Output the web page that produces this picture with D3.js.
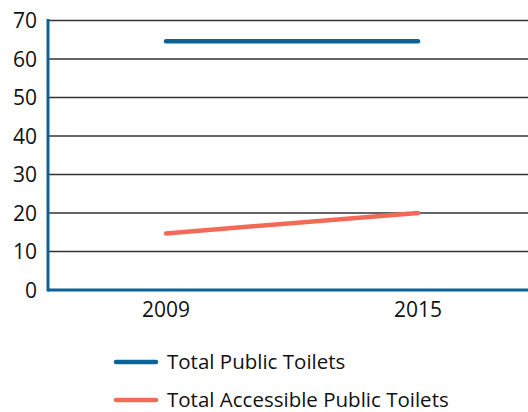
<!DOCTYPE html>
<html>
<head>
<meta charset="utf-8">
<script src="https://cdn.jsdelivr.net/npm/d3@7"></script>
<style>
  body { margin: 0; background: #fff; }
  text { font-family: "Open Sans", "Noto Sans", sans-serif; fill: #111; }
</style>
</head>
<body>
<div id="viz"></div>
<script>
var width = 528;
var height = 412;

// data
var years = ["2009", "2015"];
var totalToilets = [64.6, 64.6];
var accessibleToilets = [14.7, 20.0];
var seriesNames = ["Total Public Toilets", "Total Accessible Public Toilets"];
var seriesColors = ["#0b6396", "#f26a57"];
var yTicks = [0, 10, 20, 30, 40, 50, 60, 70];

var plotLeft = 48, plotRight = 528, plotTop = 20.5, plotBottom = 290;

var svg = d3.select("#viz").append("svg")
    .attr("width", width)
    .attr("height", height);

var x = d3.scalePoint()
    .domain(years)
    .range([166, 418]);

var y = d3.scaleLinear()
    .domain([0, 70])
    .range([plotBottom, plotTop]);

// gridlines
svg.selectAll(".grid")
    .data(yTicks.filter(function(d) { return d > 0; }))
  .enter().append("line")
    .attr("class", "grid")
    .attr("x1", plotLeft)
    .attr("x2", plotRight)
    .attr("y1", function(d) { return y(d); })
    .attr("y2", function(d) { return y(d); })
    .style("stroke", "#333")
    .style("stroke-width", 1.3);

// y tick labels
svg.selectAll(".ylab")
    .data(yTicks)
  .enter().append("text")
    .attr("class", "ylab")
    .attr("x", 37)
    .attr("y", function(d) { return y(d); })
    .attr("dy", "0.36em")
    .attr("text-anchor", "end")
    .style("font-size", "21px")
    .text(function(d) { return d; });

// x labels
svg.selectAll(".xlab")
    .data(years)
  .enter().append("text")
    .attr("class", "xlab")
    .attr("x", function(d) { return x(d); })
    .attr("y", 317)
    .attr("text-anchor", "middle")
    .style("font-size", "21px")
    .text(function(d) { return d; });

// axes
svg.append("line")
    .attr("x1", plotLeft).attr("x2", plotLeft)
    .attr("y1", plotTop - 1.5).attr("y2", plotBottom + 1.5)
    .style("stroke", "#0b6396")
    .style("stroke-width", 3);

svg.append("line")
    .attr("x1", plotLeft).attr("x2", plotRight)
    .attr("y1", plotBottom).attr("y2", plotBottom)
    .style("stroke", "#0b6396")
    .style("stroke-width", 3);

var line = d3.line()
    .x(function(d, i) { return x(years[i]); })
    .y(function(d) { return y(d); });

[totalToilets, accessibleToilets].forEach(function(s, i) {
  svg.append("path")
      .datum(s)
      .attr("d", line)
      .style("fill", "none")
      .style("stroke", seriesColors[i])
      .style("stroke-width", 4.5)
      .style("stroke-linecap", "round");
});

// legend
var legend = svg.selectAll(".legend")
    .data(seriesNames)
  .enter().append("g")
    .attr("class", "legend")
    .attr("transform", function(d, i) { return "translate(0," + (362 + i * 38) + ")"; });

legend.append("line")
    .attr("x1", 116).attr("x2", 156)
    .attr("y1", 0).attr("y2", 0)
    .style("stroke", function(d, i) { return seriesColors[i]; })
    .style("stroke-width", 4.5)
    .style("stroke-linecap", "round");

legend.append("text")
    .attr("x", 167)
    .attr("y", 0)
    .attr("dy", "0.34em")
    .style("font-size", "20.5px")
    .text(function(d) { return d; });
</script>
</body>
</html>
